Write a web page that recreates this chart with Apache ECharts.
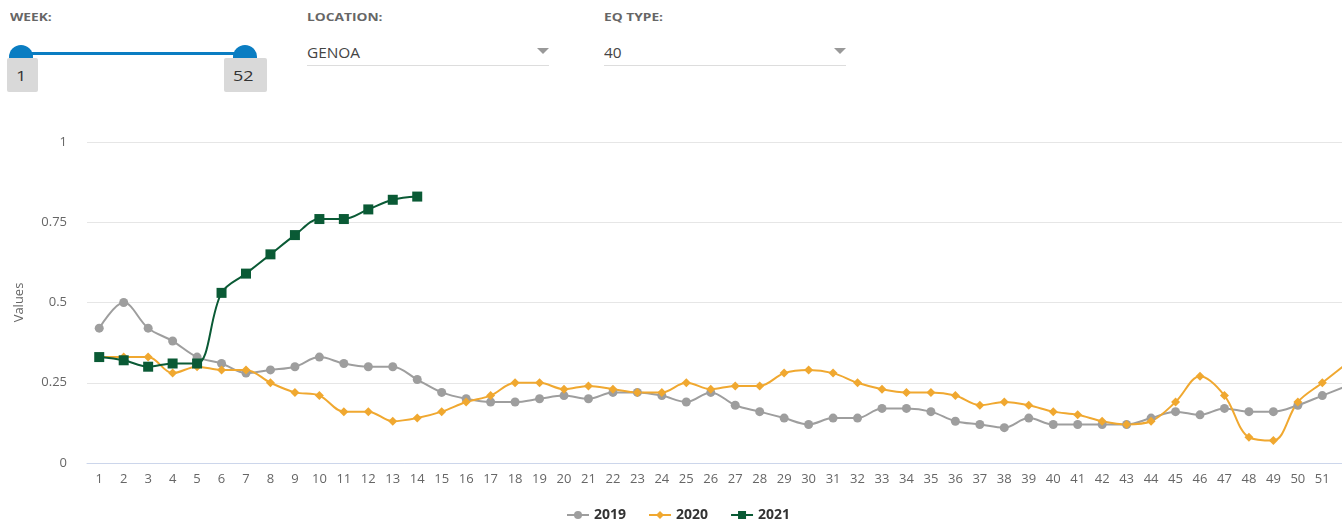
<!DOCTYPE html>
<html lang="en">
<head>
    <meta charset="UTF-8">
    <title>Weekly values</title>
    <script src="https://cdn.jsdelivr.net/npm/echarts@6/dist/echarts.min.js"></script>
    <style>
        body { margin: 0; overflow: hidden; font-family: "Open Sans", sans-serif; background: #fff; }
        #page { position: relative; width: 1342px; height: 522px; overflow: hidden; }
        .wide { display: inline-block; transform: scaleX(1.25); transform-origin: left center; }
        .lbl { position: absolute; top: 9px; font-size: 11px; font-weight: bold; color: #666; }
        .sel { position: absolute; top: 43px; width: 242px; height: 22px; border-bottom: 1px solid #ddd;
               font-size: 14px; color: #444; }
        .sel .wide { transform: scaleX(1.1); }
        .sel .arr { position: absolute; right: 0; top: 5px; width: 0; height: 0;
               border-left: 6px solid transparent; border-right: 6px solid transparent; border-top: 6px solid #999; }
        .track { position: absolute; left: 22px; top: 52px; width: 223px; height: 3px; background: #0a7dc2; }
        .knob { position: absolute; top: 45px; width: 24px; height: 13px; border-radius: 12px 12px 0 0; background: #0a7dc2; }
        .box { position: absolute; top: 58px; height: 34px; background: #d9d9d9; border-radius: 2px;
               font-size: 15px; color: #333; line-height: 34px; padding-left: 9px; box-sizing: border-box; }
        .box .wide { transform: scaleX(1.2); }
        #main { position: absolute; left: 0; top: 0; width: 1380px; height: 522px; }
    </style>
</head>
<body>
<div id="page">
    <div class="lbl" style="left:10px"><span class="wide">WEEK:</span></div>
    <div class="track"></div>
    <div class="knob" style="left:9px"></div>
    <div class="knob" style="left:233px"></div>
    <div class="box" style="left:7px;width:31px"><span class="wide">1</span></div>
    <div class="box" style="left:224px;width:43px"><span class="wide">52</span></div>

    <div class="lbl" style="left:307px"><span class="wide">LOCATION:</span></div>
    <div class="sel" style="left:307px"><span class="wide">GENOA</span><span class="arr"></span></div>

    <div class="lbl" style="left:604px"><span class="wide">EQ TYPE:</span></div>
    <div class="sel" style="left:604px"><span class="wide">40</span><span class="arr"></span></div>

    <div id="main"></div>
</div>

<script type="text/javascript">
    // weeks 1..52
    var weeks = [];
    for (var w = 1; w <= 52; w++) weeks.push(String(w));

    var v2019 = [0.42, 0.50, 0.42, 0.38, 0.33, 0.31, 0.28, 0.29, 0.30, 0.33,
                 0.31, 0.30, 0.30, 0.26, 0.22, 0.20, 0.19, 0.19, 0.20, 0.21,
                 0.20, 0.22, 0.22, 0.21, 0.19, 0.22, 0.18, 0.16, 0.14, 0.12,
                 0.14, 0.14, 0.17, 0.17, 0.16, 0.13, 0.12, 0.11, 0.14, 0.12,
                 0.12, 0.12, 0.12, 0.14, 0.16, 0.15, 0.17, 0.16, 0.16, 0.18,
                 0.21, 0.24];
    var v2020 = [0.33, 0.33, 0.33, 0.28, 0.30, 0.29, 0.29, 0.25, 0.22, 0.21,
                 0.16, 0.16, 0.13, 0.14, 0.16, 0.19, 0.21, 0.25, 0.25, 0.23,
                 0.24, 0.23, 0.22, 0.22, 0.25, 0.23, 0.24, 0.24, 0.28, 0.29,
                 0.28, 0.25, 0.23, 0.22, 0.22, 0.21, 0.18, 0.19, 0.18, 0.16,
                 0.15, 0.13, 0.12, 0.13, 0.19, 0.27, 0.21, 0.08, 0.07, 0.19,
                 0.25, 0.31];
    var v2021 = [0.33, 0.32, 0.30, 0.31, 0.31, 0.53, 0.59, 0.65, 0.71, 0.76,
                 0.76, 0.79, 0.82, 0.83];

    var yTicks = ['0', '0.25', '0.5', '0.75', '1'];

    var myChart = echarts.init(document.getElementById('main'));
    var option = {
        animation: false,
        textStyle: { fontFamily: 'Open Sans' },
        grid: { left: 87, right: 21, top: 142, bottom: 59 },
        legend: {
            left: 561, top: 503,
            itemGap: 22, itemWidth: 22, itemHeight: 10,
            textStyle: { fontSize: 14, fontWeight: 'bold', color: '#333' },
            data: ['2019', '2020', '2021']
        },
        xAxis: {
            type: 'category',
            data: weeks,
            axisLine: { lineStyle: { color: '#ccd6eb' } },
            axisTick: { show: false },
            axisLabel: {
                color: '#666', fontSize: 13, margin: 10,
                interval: function (i) { return i < 51; }  // last one is cut off in the original
            }
        },
        yAxis: {
            type: 'value',
            min: 0, max: 1, interval: 0.25,
            name: 'Values',
            nameLocation: 'middle',
            nameGap: 61,
            nameTextStyle: { color: '#666', fontSize: 13 },
            axisLabel: {
                color: '#666', fontSize: 13, margin: 20,
                formatter: function (v) { return yTicks[Math.round(v / 0.25)]; }
            },
            splitLine: { lineStyle: { color: '#e6e6e6' } }
        },
        series: [{
            name: '2019', type: 'line', smooth: 0.35, data: v2019,
            symbol: 'circle', symbolSize: 9,
            itemStyle: { color: '#9e9e9e' },
            lineStyle: { width: 2, color: '#9e9e9e' }
        }, {
            name: '2020', type: 'line', smooth: 0.35, data: v2020,
            symbol: 'diamond', symbolSize: 9,
            itemStyle: { color: '#f0a830' },
            lineStyle: { width: 2, color: '#f0a830' }
        }, {
            name: '2021', type: 'line', smooth: 0.35, data: v2021,
            symbol: 'rect', symbolSize: 10,
            itemStyle: { color: '#0a5a35' },
            lineStyle: { width: 2, color: '#0a5a35' }
        }]
    };
    myChart.setOption(option);
</script>
</body>
</html>
